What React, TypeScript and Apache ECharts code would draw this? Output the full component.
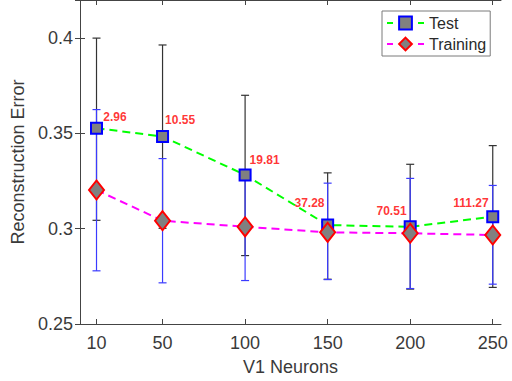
import React, { useEffect, useRef } from "react";
import * as echarts from "echarts";

const neurons = [10, 50, 100, 150, 200, 250];
const testMean = [0.3527, 0.3484, 0.3282, 0.3019, 0.301, 0.3063];
const testLow = [0.3044, 0.3002, 0.2859, 0.2735, 0.2683, 0.2692];
const testHigh = [0.4, 0.3964, 0.37, 0.3293, 0.3338, 0.3436];
const trainMean = [0.3203, 0.3042, 0.301, 0.2981, 0.2976, 0.2967];
const trainLow = [0.2779, 0.2716, 0.2728, 0.2733, 0.2686, 0.2709];
const trainHigh = [0.3625, 0.3368, 0.329, 0.3239, 0.3264, 0.3227];
const noteX = [21.2, 60.6, 111.8, 139.0, 188.7, 236.8];
const noteY = [0.3586, 0.357, 0.336, 0.3135, 0.3093, 0.3135];
const noteText = ["2.96", "10.55", "19.81", "37.28", "70.51", "111.27"];
const xTicks = [10, 50, 100, 150, 200, 250];

const FONT = "'Liberation Sans', Arial, Helvetica, sans-serif";

function errorBars(name: string, lo: number[], hi: number[], color: string, z: number) {
  return {
    name,
    type: "custom",
    z,
    silent: true,
    encode: { x: 0, y: [1, 2] },
    data: neurons.map((x, i) => [x, lo[i], hi[i]]),
    renderItem: (params: any, api: any) => {
      const x = api.value(0);
      const top = api.coord([x, api.value(2)]);
      const bot = api.coord([x, api.value(1)]);
      const hw = 4;
      const style = { stroke: color, lineWidth: 1.2 };
      return {
        type: "group",
        children: [
          { type: "line", shape: { x1: top[0], y1: top[1], x2: bot[0], y2: bot[1] }, style },
          { type: "line", shape: { x1: top[0] - hw, y1: top[1], x2: top[0] + hw, y2: top[1] }, style },
          { type: "line", shape: { x1: bot[0] - hw, y1: bot[1], x2: bot[0] + hw, y2: bot[1] }, style },
        ],
      };
    },
  };
}

export default function App() {
  const ref = useRef<HTMLDivElement>(null);
  useEffect(() => {
    const chart = echarts.init(ref.current!, null, { renderer: "svg" });
    const axisColor = "#444444";
    const labelColor = "#3a3a3a";
    const xBase = {
      type: "value",
      min: 0,
      max: 255,
      splitLine: { show: false },
      axisLine: { show: true, lineStyle: { color: axisColor, width: 1 } },
      axisTick: { show: true, inside: true, length: 5, customValues: xTicks, lineStyle: { color: axisColor } },
    };
    const yBase = {
      type: "value",
      min: 0.25,
      max: 0.42,
      interval: 0.05,
      splitLine: { show: false },
      axisLine: { show: true, lineStyle: { color: axisColor, width: 1 } },
      axisTick: { show: true, inside: true, length: 5, lineStyle: { color: axisColor } },
    };
    chart.setOption({
      animation: false,
      backgroundColor: "#ffffff",
      textStyle: { fontFamily: FONT },
      grid: { left: 80, right: 11, top: 0, bottom: 57 },
      legend: {
        orient: "vertical",
        left: 382,
        top: 11,
        padding: [4, 4, 4, 4],
        itemGap: 5,
        itemWidth: 37,
        itemHeight: 16,
        borderColor: "#7a7a7a",
        borderWidth: 1,
        backgroundColor: "#ffffff",
        lineStyle: { type: [6, 25], width: 2 },
        textStyle: { fontFamily: FONT, fontSize: 16, color: "#2a2a2a", padding: [0, 0, 0, 0] },
        data: ["Test", "Training"],
      },
      xAxis: [
        {
          ...xBase,
          position: "bottom",
          name: "V1 Neurons",
          nameLocation: "middle",
          nameGap: 34,
          nameTextStyle: { fontFamily: FONT, fontSize: 18, color: labelColor },
          axisLabel: { customValues: xTicks, margin: 10, fontFamily: FONT, fontSize: 18, color: labelColor },
        },
        { ...xBase, position: "top", axisLabel: { show: false } },
      ],
      yAxis: [
        {
          ...yBase,
          position: "left",
          name: "Reconstruction Error",
          nameLocation: "middle",
          nameGap: 45,
          nameTextStyle: { fontFamily: FONT, fontSize: 18, color: labelColor },
          axisLabel: {
            margin: 7,
            fontFamily: FONT,
            fontSize: 18,
            color: labelColor,
            formatter: (v: number) => {
              const r = Math.round(v * 100) / 100;
              return Math.abs(r / 0.05 - Math.round(r / 0.05)) < 1e-6 ? String(r) : "";
            },
          },
        },
        { ...yBase, position: "right", axisLabel: { show: false } },
      ],
      series: [
        errorBars("TestErr", testLow, testHigh, "#333333", 2),
        errorBars("TrainErr", trainLow, trainHigh, "#3b3bff", 3),
        {
          name: "Test",
          type: "line",
          z: 4,
          data: neurons.map((x, i) => [x, testMean[i]]),
          symbol: "rect",
          symbolSize: 11,
          showSymbol: true,
          lineStyle: { color: "#00ff00", width: 2, type: [8, 5] },
          itemStyle: { color: "#808080", borderColor: "#0000ff", borderWidth: 2 },
        },
        {
          name: "Training",
          type: "line",
          z: 5,
          data: neurons.map((x, i) => [x, trainMean[i]]),
          symbol: "diamond",
          symbolSize: [15, 19],
          showSymbol: true,
          lineStyle: { color: "#ff00ff", width: 2, type: [8, 5] },
          itemStyle: { color: "#808080", borderColor: "#ff0000", borderWidth: 2 },
        },
        {
          name: "notes",
          type: "scatter",
          z: 6,
          silent: true,
          symbolSize: 0,
          data: noteX.map((x, i) => ({ value: [x, noteY[i]], name: noteText[i] })),
          label: {
            show: true,
            position: "inside",
            formatter: (p: any) => p.name,
            color: "#ff0000",
            fontWeight: "bold",
            fontSize: 12,
            fontFamily: FONT,
          },
        },
      ],
    });
    return () => chart.dispose();
  }, []);
  return (
    <div
      ref={ref}
      style={{ position: "fixed", left: 0, top: 0, width: 512, height: 381, background: "#fff" }}
    />
  );
}
